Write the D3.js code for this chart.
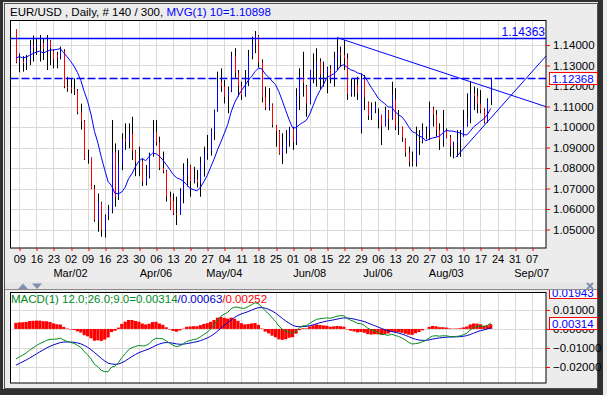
<!DOCTYPE html>
<html>
<head>
<meta charset="utf-8">
<script src="https://cdn.jsdelivr.net/npm/d3@7/dist/d3.min.js"></script>
<style>
body { margin: 0; background: #ececec; }
svg text { font-family: "Liberation Sans", Arial, sans-serif; font-size: 11px; }
</style>
</head>
<body>
<svg id="chart" width="607" height="395"></svg>
<script>
// daily EUR/USD bars, 06 Feb .. 20 Aug (140 bars)
var opens = [1.1474,1.1316,1.1322,1.1313,1.1331,1.1398,1.1388,1.1404,1.1409,1.1382,
  1.1420,1.1372,1.1352,1.1338,1.1370,1.1196,1.1193,1.1183,1.1178,1.1071,
  1.1030,1.0843,1.0849,1.0699,1.0547,1.0630,1.0496,1.0566,1.0595,1.0876,
  1.0659,1.0820,1.0940,1.0930,1.0965,1.0885,1.0830,1.0832,1.0731,1.0762,
  1.0870,1.0975,1.0925,1.0800,1.0785,1.0660,1.0640,1.0578,1.0575,1.0690,
  1.0765,1.0810,1.0735,1.0745,1.0730,1.0825,1.0870,1.0885,1.0980,1.1080,
  1.1220,1.1198,1.1148,1.1180,1.1345,1.1265,1.1200,1.1155,1.1215,1.1345,
  1.1405,1.1445,1.1315,1.1145,1.1095,1.1110,1.1010,1.0980,1.0870,1.0900,
  1.0935,1.0990,1.0925,1.1150,1.1245,1.1200,1.1115,1.1275,1.1285,1.1320,
  1.1255,1.1265,1.1285,1.1240,1.1335,1.1365,1.1350,1.1335,1.1160,1.1200,
  1.1205,1.0990,1.1235,1.1120,1.1055,1.1085,1.1040,1.1060,1.1005,1.1080,
  1.1040,1.1135,1.1005,1.1002,1.0945,1.0875,1.0830,1.0825,1.0935,1.0930,
  1.0985,1.0985,1.1090,1.1060,1.0985,1.0935,1.0980,1.0950,1.0906,1.0921,
  1.0941,1.0952,1.1002,1.1040,1.1165,1.1150,1.1113,1.1085,1.1025,1.11295];
var highs = [1.1476,1.1359,1.1346,1.1351,1.1424,1.1446,1.1433,1.1449,1.1433,1.1449,
  1.1424,1.1378,1.1367,1.1392,1.1379,1.1245,1.1237,1.1237,1.1185,1.1114,
  1.1034,1.0890,1.0852,1.0717,1.0676,1.0635,1.0573,1.0620,1.1034,1.0920,
  1.0888,1.0969,1.1018,1.1018,1.1050,1.0888,1.0904,1.0847,1.0815,1.0875,
  1.1034,1.1034,1.0953,1.0880,1.0790,1.0685,1.0676,1.0660,1.0701,1.0823,
  1.0847,1.0815,1.0806,1.0790,1.0855,1.0904,1.0961,1.0993,1.1085,1.1270,
  1.1286,1.1229,1.1197,1.1367,1.1384,1.1278,1.1221,1.1278,1.1376,1.1441,
  1.1468,1.1449,1.1330,1.1197,1.1190,1.1115,1.1010,1.0985,1.0969,1.0985,
  1.1001,1.1001,1.1189,1.1286,1.1367,1.1205,1.1278,1.1359,1.1384,1.1335,
  1.1319,1.1294,1.1302,1.1367,1.1436,1.1392,1.1424,1.1359,1.1237,1.1237,
  1.1245,1.1262,1.1254,1.1124,1.1120,1.1124,1.1091,1.1060,1.1099,1.1083,
  1.1221,1.1189,1.1083,1.1002,1.0945,1.0904,1.0880,1.1002,1.0985,1.1018,
  1.1002,1.1124,1.1099,1.1083,1.1018,1.1083,1.0993,1.0961,1.0928,1.0985,
  1.0985,1.1083,1.1164,1.1221,1.1197,1.1189,1.1180,1.1091,1.1140,1.1240];
var lows = [1.1311,1.1267,1.1270,1.1278,1.1302,1.1319,1.1351,1.1319,1.1327,1.1278,
  1.1302,1.1286,1.1286,1.1330,1.1189,1.1172,1.1164,1.1156,1.1062,1.0987,
  1.0839,1.0821,1.0697,1.0538,1.0489,1.0465,1.0461,1.0546,1.0579,1.0611,
  1.0644,1.0790,1.0888,1.0896,1.0839,1.0760,1.0760,1.0712,1.0715,1.0750,
  1.0855,1.0910,1.0790,1.0774,1.0636,1.0595,1.0571,1.0522,1.0571,1.0628,
  1.0709,1.0660,1.0725,1.0705,1.0660,1.0758,1.0840,1.0860,1.0937,1.1075,
  1.1172,1.1115,1.1067,1.1170,1.1240,1.1148,1.1132,1.1148,1.1200,1.1330,
  1.1360,1.1290,1.1120,1.1083,1.1080,1.0998,1.0904,1.0865,1.0819,1.0871,
  1.0904,1.0888,1.0912,1.1083,1.1148,1.1050,1.1110,1.1213,1.1197,1.1180,
  1.1197,1.1164,1.1213,1.1197,1.1278,1.1294,1.1278,1.1132,1.1148,1.1148,
  1.1132,1.0969,1.1083,1.1034,1.1034,1.1067,1.0993,1.0912,1.1002,1.0985,
  1.1035,1.0985,1.0961,1.0928,1.0855,1.0807,1.0808,1.0807,1.0863,1.0920,
  1.0940,1.0937,1.1002,1.0953,1.0888,1.0904,1.0945,1.0855,1.0847,1.0855,
  1.0855,1.0960,1.1002,1.1018,1.1083,1.1067,1.1067,1.1017,1.1020,1.1107];
var closes = [1.1316,1.1322,1.1313,1.1331,1.1398,1.1388,1.1404,1.1409,1.1382,1.1420,
  1.1385,1.1330,1.1338,1.1370,1.1196,1.1193,1.1183,1.1178,1.1071,1.1030,
  1.0843,1.0849,1.0699,1.0547,1.0635,1.0496,1.0566,1.0595,1.0876,1.0659,
  1.0820,1.0940,1.0930,1.0965,1.0885,1.0830,1.0832,1.0731,1.0762,1.0870,
  1.0975,1.0925,1.0800,1.0785,1.0660,1.0600,1.0578,1.0575,1.0690,1.0765,
  1.0810,1.0735,1.0745,1.0730,1.0825,1.0870,1.0885,1.0980,1.1080,1.1220,
  1.1198,1.1148,1.1180,1.1345,1.1265,1.1200,1.1155,1.1215,1.1345,1.1405,
  1.1445,1.1315,1.1145,1.1095,1.1110,1.1010,1.0980,1.0870,1.0900,1.0935,
  1.0990,1.0925,1.1150,1.1245,1.1215,1.1115,1.1275,1.1285,1.1320,1.1255,
  1.1265,1.1285,1.1240,1.1335,1.1365,1.1350,1.1335,1.1160,1.1200,1.1205,
  1.1165,1.1235,1.1145,1.1055,1.1085,1.1105,1.1060,1.1005,1.1080,1.1040,
  1.1160,1.1005,1.1005,1.0950,1.0875,1.0830,1.0825,1.0935,1.0930,1.0985,
  1.0985,1.1090,1.1060,1.0985,1.0935,1.0980,1.0950,1.0906,1.0921,1.0941,
  1.0952,1.1002,1.1040,1.1165,1.1150,1.1113,1.1085,1.1025,1.11295,1.12368];
// closes before the first visible bar, only used to start the 10 day average
var priorCloses = [1.1240,1.1382,1.1290,1.1318,1.1290,1.1345,1.1350,1.1480,1.1346];
var macdStart = [1.1330, 1.1488, -0.0190];

var weekLabels = ["09","16","23","02","09","16","23","30","06","13","20","27","04","11","18","25",
  "01","08","15","22","29","06","13","20","27","03","10","17","24","31","07"];
var monthLabels = ["Mar/02","Apr/06","May/04","Jun/08","Jul/06","Aug/03","Sep/07"];
var monthWeeks = [3, 8, 12, 17, 21, 25, 30];
var priceTicks = [1.05,1.06,1.07,1.08,1.09,1.10,1.11,1.12,1.13,1.14];
var macdTicks = [0.01, 0, -0.01, -0.02];
var macdTop = 0.01943;
var resistLevel = 1.14363;
var trendDown = [[94, 1.14363], [155.19, 1.1099]];
var trendUp = [[128.8, 1.08522], [155.19, 1.13463]];

var n = closes.length;
var weekIdx = weekLabels.map(function(d, k) { return 1 + 5 * k; });

// 10 day moving average
var allCloses = priorCloses.concat(closes);
var ma10 = closes.map(function(c, i) {
    return d3.mean(allCloses.slice(i, i + 10));
});

// MACD 12/26/9
var e12 = macdStart[0], e26 = macdStart[1], sig = macdStart[2];
var macd = [], signal = [], hist = [];
closes.forEach(function(c, i) {
    if (i > 0) {
        e12 = c * 2 / 13 + e12 * 11 / 13;
        e26 = c * 2 / 27 + e26 * 25 / 27;
    }
    var m = e12 - e26;
    if (i > 0) sig = m * 0.2 + sig * 0.8;
    macd.push(m); signal.push(sig); hist.push(m - sig);
});

var L = 10.5, R = 546;
var x = d3.scaleLinear().domain([-1.58, 155.19]).range([L, R]);
var y = d3.scaleLinear().domain([1.040976, 1.152195]).range([248, 20]);
var ym = d3.scaleLinear().domain([-0.028421, macdTop]).range([383, 292]);
function px(i) { return Math.round(x(i)) + 0.5; }

var svg = d3.select("#chart");

// window frame
svg.append("rect").attr("width", 603).attr("height", 395).attr("fill", "#303030");
svg.append("rect").attr("x", 3).attr("y", 2).attr("width", 595).attr("height", 387).attr("fill", "#ececec");
svg.append("rect").attr("x", 4.5).attr("y", 3.5).attr("width", 593).attr("height", 385)
    .attr("fill", "none").attr("stroke", "#505050");

var defs = svg.append("defs");
defs.append("clipPath").attr("id", "clipMain").append("rect")
    .attr("x", L).attr("y", 20.5).attr("width", R - L).attr("height", 227);
defs.append("clipPath").attr("id", "clipMacd").append("rect")
    .attr("x", L).attr("y", 292.5).attr("width", R - L).attr("height", 90.5);
defs.append("clipPath").attr("id", "clipAxis").append("rect")
    .attr("x", 0).attr("y", 290).attr("width", 607).attr("height", 100);

// ---------- main pane ----------
svg.append("rect").attr("x", L).attr("y", 20.5).attr("width", R - L).attr("height", 227.5)
    .attr("fill", "#fff");

var grid = svg.append("g").attr("stroke", "#d9d9d9").attr("stroke-width", 1);
grid.selectAll(".gv").data(weekIdx).enter().append("line")
    .attr("x1", function(d) { return px(d); }).attr("x2", function(d) { return px(d); })
    .attr("y1", 20.5).attr("y2", 248);
grid.selectAll(".gh").data(priceTicks).enter().append("line")
    .attr("x1", L).attr("x2", R)
    .attr("y1", function(d) { return Math.round(y(d)) + 0.5; })
    .attr("y2", function(d) { return Math.round(y(d)) + 0.5; });

var plot = svg.append("g").attr("clip-path", "url(#clipMain)");

// bars: black high-low, coloured open-close
plot.selectAll(".hl").data(closes).enter().append("line")
    .attr("stroke", "#000").attr("stroke-width", 1)
    .attr("x1", function(d, i) { return px(i); }).attr("x2", function(d, i) { return px(i); })
    .attr("y1", function(d, i) { return y(highs[i]); })
    .attr("y2", function(d, i) { return y(lows[i]); });
plot.selectAll(".oc").data(closes).enter().append("line")
    .attr("stroke", function(d, i) { return d >= opens[i] ? "#0000ff" : "#ff0000"; })
    .attr("stroke-width", 1)
    .attr("x1", function(d, i) { return px(i); }).attr("x2", function(d, i) { return px(i); })
    .attr("y1", function(d, i) { return y(opens[i]); })
    .attr("y2", function(d, i) { return y(d) + (Math.abs(y(d) - y(opens[i])) < 1 ? 1 : 0); });

plot.append("path").datum(ma10)
    .attr("fill", "none").attr("stroke", "#0000ff").attr("stroke-width", 1)
    .attr("d", d3.line().x(function(d, i) { return x(i); }).y(function(d) { return y(d); }));

plot.append("line").attr("x1", L).attr("x2", R)
    .attr("y1", Math.round(y(resistLevel)) + 0.5).attr("y2", Math.round(y(resistLevel)) + 0.5)
    .attr("stroke", "#0000ff").attr("stroke-width", 1.6);
plot.append("line").attr("x1", L).attr("x2", R)
    .attr("y1", Math.round(y(closes[n - 1])) + 0.5).attr("y2", Math.round(y(closes[n - 1])) + 0.5)
    .attr("stroke", "#0000ff").attr("stroke-width", 1.6).attr("stroke-dasharray", "8,3");

var tl = d3.line().x(function(d) { return x(d[0]); }).y(function(d) { return y(d[1]); });
plot.selectAll(".trend").data([trendDown, trendUp]).enter().append("path")
    .attr("fill", "none").attr("stroke", "#0000ff").attr("stroke-width", 1)
    .attr("d", tl);

svg.append("text").attr("x", R - 1).attr("y", 36).attr("text-anchor", "end")
    .attr("fill", "#0000ff").style("font-size", "12px").text(d3.format(".5f")(resistLevel));

svg.append("rect").attr("x", L).attr("y", 20.5).attr("width", R - L).attr("height", 227.5)
    .attr("fill", "none").attr("stroke", "#000");

// price axis
var yAxis = svg.append("g").attr("transform", "translate(" + R + ",0)")
    .call(d3.axisRight(y).tickValues(priceTicks).tickFormat(d3.format(".5f")).tickSize(4).tickPadding(3));
yAxis.select(".domain").remove();
yAxis.selectAll("line").attr("stroke", "#ff0000");
yAxis.selectAll("text").attr("fill", "#000").style("font-size", "11.5px");

// last price box
svg.append("rect").attr("x", 549.5).attr("y", Math.round(y(closes[n - 1])) - 5.5)
    .attr("width", 48).attr("height", 12).attr("fill", "#fff").attr("stroke", "#ff0000");
svg.append("text").attr("x", 552).attr("y", Math.round(y(closes[n - 1])) + 4.5)
    .attr("fill", "#0000ff").style("font-size", "11.5px").text(d3.format(".5f")(closes[n - 1]));

// time axis
var xAxis = svg.append("g").attr("transform", "translate(0,248)")
    .call(d3.axisBottom(x).tickValues(weekIdx).tickFormat(function(d, k) { return weekLabels[k]; })
        .tickSize(3).tickPadding(4));
xAxis.select(".domain").remove();
xAxis.selectAll("line").attr("stroke", "#ff0000")
    .attr("transform", function(d) { return "translate(" + (px(d) - x(d)) + ",0)"; });
xAxis.selectAll("text").attr("fill", "#000").style("font-size", "11px");

svg.selectAll(".month").data(monthLabels).enter().append("text")
    .attr("x", function(d, k) { return x(weekIdx[monthWeeks[k]]); })
    .attr("y", 277).attr("text-anchor", "middle").attr("fill", "#000")
    .text(function(d) { return d; });

// title
var title = svg.append("text").attr("x", 10).attr("y", 16).style("font-size", "11.5px");
title.append("tspan").attr("fill", "#000").text("EUR/USD , Daily, # " + n + " / 300, ");
title.append("tspan").attr("fill", "#0000ff").text("MVG(1) 10=" + d3.format(".5f")(ma10[n - 1]));

// ---------- MACD pane ----------
svg.append("rect").attr("x", L).attr("y", 292.5).attr("width", R - L).attr("height", 90.5)
    .attr("fill", "#fff");
var grid2 = svg.append("g").attr("stroke", "#d9d9d9").attr("stroke-width", 1);
grid2.selectAll(".gv").data(weekIdx).enter().append("line")
    .attr("x1", function(d) { return px(d); }).attr("x2", function(d) { return px(d); })
    .attr("y1", 292.5).attr("y2", 383);
grid2.selectAll(".gh").data(macdTicks).enter().append("line")
    .attr("x1", L).attr("x2", R)
    .attr("y1", function(d) { return Math.round(ym(d)) + 0.5; })
    .attr("y2", function(d) { return Math.round(ym(d)) + 0.5; });

var mplot = svg.append("g").attr("clip-path", "url(#clipMacd)");
mplot.selectAll(".hist").data(hist).enter().append("rect")
    .attr("fill", "#ff0000")
    .attr("x", function(d, i) { return x(i) - 1.6; })
    .attr("width", 3.2)
    .attr("y", function(d) { return Math.min(ym(d), ym(0)); })
    .attr("height", function(d) { return Math.abs(ym(d) - ym(0)); });
var ml = d3.line().x(function(d, i) { return x(i); }).y(function(d) { return ym(d); });
mplot.append("path").datum(signal).attr("fill", "none").attr("stroke", "#0000cc").attr("d", ml);
mplot.append("path").datum(macd).attr("fill", "none").attr("stroke", "#008c1e").attr("d", ml);

svg.append("rect").attr("x", L).attr("y", 292.5).attr("width", R - L).attr("height", 90.5)
    .attr("fill", "none").attr("stroke", "#000");

var mlabel = svg.append("text").attr("x", 11).attr("y", 303).style("font-size", "11.5px");
var f5 = d3.format(".5f");
mlabel.append("tspan").attr("fill", "#008c1e").text("MACD(1) 12.0;26.0;9.0=" + f5(macd[n - 1]));
mlabel.append("tspan").attr("fill", "#0000cc").text("/" + f5(signal[n - 1]));
mlabel.append("tspan").attr("fill", "#ff0000").text("/" + f5(hist[n - 1]));

var mAxis = svg.append("g").attr("transform", "translate(" + R + ",0)")
    .call(d3.axisRight(ym).tickValues(macdTicks).tickFormat(f5).tickSize(4).tickPadding(3));
mAxis.select(".domain").remove();
mAxis.selectAll("line").attr("stroke", "#ff0000");
mAxis.selectAll("text").attr("fill", "#000").style("font-size", "11.5px");

var mboxes = svg.append("g").attr("clip-path", "url(#clipAxis)");
[macdTop, macd[n - 1]].forEach(function(v) {
    var yy = Math.round(ym(v));
    mboxes.append("rect").attr("x", 549.5).attr("y", yy - 5.5).attr("width", 48).attr("height", 12)
        .attr("fill", "#fff").attr("stroke", "#ff0000");
    mboxes.append("text").attr("x", 552).attr("y", yy + 4.5).attr("fill", "#0000ff")
        .style("font-size", "11.5px").text(f5(v));
});

// pane separator with its small controls
svg.append("rect").attr("x", 5).attr("y", 282).attr("width", 592).attr("height", 7).attr("fill", "#e6e6e6");
svg.append("line").attr("x1", 5).attr("x2", 597).attr("y1", 289.5).attr("y2", 289.5).attr("stroke", "#8c8c8c");
svg.append("path").attr("d", "M18,289L23,283.5L28,289Z").attr("fill", "#8090b0");
svg.append("path").attr("d", "M32,283.5L42,283.5L37,289Z").attr("fill", "#8090b0");
svg.append("path").attr("d", "M587,283L593,289M593,283L587,289").attr("stroke", "#8090b0").attr("stroke-width", 2);
</script>
</body>
</html>
